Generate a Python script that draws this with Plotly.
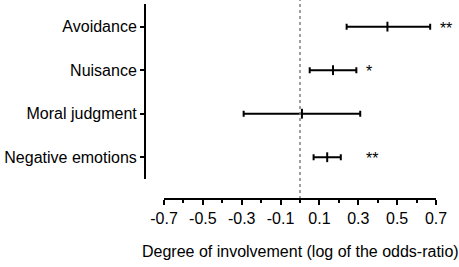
import plotly.graph_objects as go

categories = ["Avoidance", "Nuisance", "Moral judgment", "Negative emotions"]
estimate = [0.45, 0.17, 0.01, 0.14]
ci_low = [0.24, 0.05, -0.29, 0.07]
ci_high = [0.67, 0.29, 0.31, 0.21]
stars = ["**", "*", "", "**"]
star_x = [0.72, 0.34, 0.0, 0.34]
x_ticks = [-0.7, -0.5, -0.3, -0.1, 0.1, 0.3, 0.5, 0.7]
x_tick_labels = ["-0.7", "-0.5", "-0.3", "-0.1", "0.1", "0.3", "0.5", "0.7"]
x_minor_ticks = [-0.6, -0.4, -0.2, 0.0, 0.2, 0.4, 0.6]
x_title = "Degree of involvement (log of the odds-ratio)"

ypos = list(range(len(categories)))
FONT = "Arial, Liberation Sans, sans-serif"
X_LIM = [x_ticks[0], x_ticks[-1]]
Y_RANGE = [3.5, -0.52]
STAR_DROP = 0.07  # small downward nudge of the asterisks (style)

W, H = 459, 267
ML, MR, MT, MB = 145, 0, 4, 68
plot_w = W - ML - MR
AXIS_START, AXIS_LEN = 19, 272  # px of the drawn x-axis within the plot area
x_dom0 = AXIS_START / plot_w
# extend the data range to the right edge (same scale) so the asterisks fit
x_max = X_LIM[0] + (X_LIM[1] - X_LIM[0]) * (plot_w - AXIS_START) / AXIS_LEN

fig = go.Figure()
fig.add_trace(go.Scatter(
    x=estimate, y=ypos, mode="markers",
    marker=dict(symbol="line-ns-open", size=7, color="black",
                line=dict(color="black", width=2)),
    error_x=dict(type="data", symmetric=False,
                 array=[h - e for h, e in zip(ci_high, estimate)],
                 arrayminus=[e - l for e, l in zip(estimate, ci_low)],
                 color="black", thickness=2, width=3),
    showlegend=False, hoverinfo="skip",
))

fig.add_trace(go.Scatter(
    x=star_x, y=ypos, mode="text", text=stars, textposition="middle right",
    textfont=dict(family=FONT, size=16, color="black"),
    yaxis="y2", cliponaxis=False, showlegend=False, hoverinfo="skip",
))

# dotted reference line at zero
fig.add_shape(type="line", xref="x", yref="paper", x0=0, x1=0, y0=0, y1=1.03,
              line=dict(color="#808080", width=1.5, dash="dot"))
# x-axis line spanning only the tick range
fig.add_shape(type="line", xref="x", yref="paper", x0=X_LIM[0], x1=X_LIM[1],
              y0=0, y1=0, line=dict(color="black", width=2))

fig.add_annotation(x=sum(X_LIM) / 2, xref="x", y=0, yref="paper",
                   yanchor="top", yshift=-42, showarrow=False, text=x_title,
                   font=dict(family=FONT, size=16, color="black"))

fig.update_layout(
    width=W, height=H,
    margin=dict(l=ML, r=MR, t=MT, b=MB),
    paper_bgcolor="white", plot_bgcolor="white",
    font=dict(family=FONT, size=16, color="black"),
    xaxis=dict(
        domain=[x_dom0, 1], range=[X_LIM[0], x_max], anchor="free", position=0,
        tickvals=x_ticks, ticktext=x_tick_labels,
        showline=False,
        ticks="outside", ticklen=5, tickwidth=2, tickcolor="black",
        minor=dict(tickvals=x_minor_ticks,
                   ticks="outside", ticklen=3, tickwidth=2, tickcolor="black"),
        showgrid=False, zeroline=False,
    ),
    yaxis=dict(
        domain=[0.1026, 1], range=Y_RANGE, anchor="free", position=0,
        tickvals=ypos, ticktext=categories,
        showline=True, linewidth=2, linecolor="black",
        ticks="outside", ticklen=4, tickwidth=1.5, tickcolor="black",
        showgrid=False, zeroline=False,
    ),
    yaxis2=dict(
        overlaying="y", anchor="free", position=0, visible=False,
        range=[Y_RANGE[0] - STAR_DROP, Y_RANGE[1] - STAR_DROP],
    ),
)

fig.write_html("out.html", config={"displayModeBar": False},
               post_script="document.body.style.margin='0';document.body.style.overflow='hidden';")
